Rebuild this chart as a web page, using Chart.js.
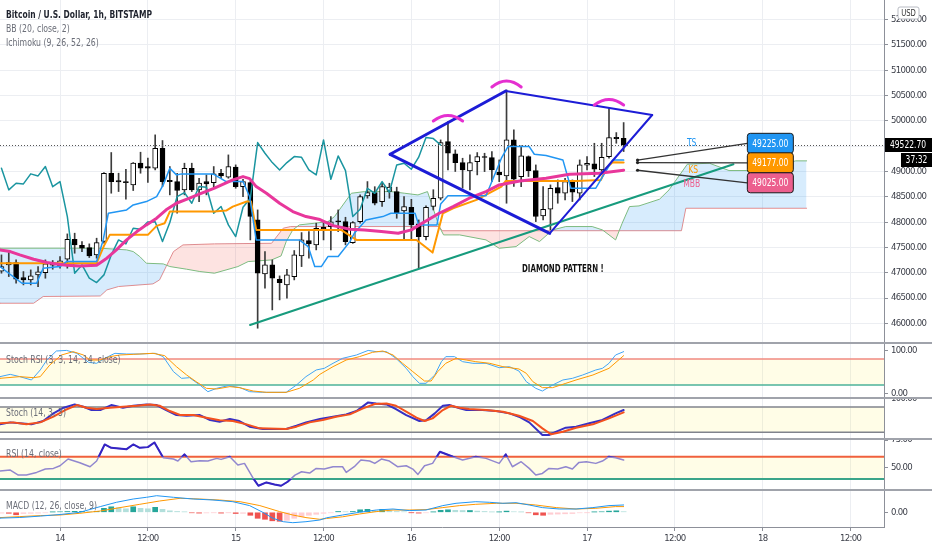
<!DOCTYPE html>
<html><head><meta charset="utf-8"><title>BTCUSD 1h</title>
<script src="https://cdn.jsdelivr.net/npm/chart.js@4.4.1/dist/chart.umd.min.js"></script>
<style>
html,body{margin:0;padding:0;background:#fff;}
#wrap{position:relative;width:932px;height:550px;overflow:hidden;background:#fff;}
#wrap canvas{position:absolute;left:0;}
.sep{position:absolute;left:0;width:932px;height:2px;background:#a0a3ab;z-index:2;}
.lg{position:absolute;left:6px;font-family:'DejaVu Sans Condensed','Liberation Sans Narrow',sans-serif;font-size:10.5px;line-height:12px;color:#6b6e78;white-space:nowrap;z-index:3;transform:scaleX(0.82);transform-origin:0 0;}
.lg.t{color:#1e222d;font-weight:bold;transform:scaleX(0.80);}
</style></head><body>
<div id="wrap">
 <canvas id="cMain" width="932" height="343" style="top:0px;width:932px;height:343px"></canvas>
 <canvas id="cSrsi" width="932" height="53" style="top:344px;width:932px;height:53px"></canvas>
 <canvas id="cStoch" width="932" height="41" style="top:398px;width:932px;height:41px"></canvas>
 <canvas id="cRsi" width="932" height="50" style="top:440px;width:932px;height:50px"></canvas>
 <canvas id="cMacd" width="932" height="59" style="top:491px;width:932px;height:59px"></canvas>
 <div class="sep" style="top:342px"></div>
 <div class="sep" style="top:397px"></div>
 <div class="sep" style="top:438px"></div>
 <div class="sep" style="top:489px"></div>
 <div class="lg t" style="top:8px">Bitcoin / U.S. Dollar, 1h, BITSTAMP</div>
 <div class="lg" style="top:21.5px">BB (20, close, 2)</div>
 <div class="lg" style="top:35.5px">Ichimoku (9, 26, 52, 26)</div>
 <div class="lg" style="top:353px">Stoch RSI (3, 3, 14, 14, close)</div>
 <div class="lg" style="top:406px">Stoch (14, 3, 3)</div>
 <div class="lg" style="top:447px">RSI (14, close)</div>
 <div class="lg" style="top:499px">MACD (12, 26, close, 9)</div>
</div>
<script>
// ---------------- DATA ----------------
// time: hours since 14 00:00
const timeTickHours = [0,12,24,36,48,60,72,84,96,108];
const timeTickLabels = ['14','12:00','15','12:00','16','12:00','17','12:00','18','12:00'];
const priceTicks = [46000,46500,47000,47500,48000,48500,49000,49500,50000,50500,51000,51500,52000];

const hours = [-8,-7,-6,-5,-4,-3,-2,-1,0,1,2,3,4,5,6,7,8,9,10,11,12,13,14,15,16,17,18,19,20,21,22,23,24,25,26,27,28,29,30,31,32,33,34,35,36,37,38,39,40,41,42,43,44,45,46,47,48,49,50,51,52,53,54,55,56,57,58,59,60,61,62,63,64,65,66,67,68,69,70,71,72,73,74,75,76,77];
const open  = [47030,47155,47201,46904,46858,46957,47003,47175,47135,47267,47662,47543,47497,47352,47616,48966,48820,48800,48736,49164,49098,49065,49460,48825,48801,48637,49065,48637,48801,48781,48966,48887,49085,48700,48781,48044,46977,47154,46871,46759,46924,47332,47635,47550,47898,47912,48026,48010,47596,48010,48518,48584,48406,48604,48604,48221,48294,47964,47714,48312,48472,49591,49348,49176,49013,49196,49295,49275,48990,48913,49624,48900,49295,49018,48122,48254,48682,48570,48788,48570,49124,49150,49031,49295,49677,49657];
const high  = [47352,47398,47254,47023,47056,47122,47254,47241,47320,47767,47781,47616,47570,47682,48979,49375,48966,49045,49177,49381,49263,49724,49612,49098,48966,49164,49164,48867,48933,49098,49045,49328,49131,48847,48801,48241,47418,47253,46937,47069,47438,47793,47813,47978,47990,48109,48241,48096,48010,48540,48801,48700,48780,48768,48690,48505,48450,48043,48320,48640,49624,49986,49427,49262,49328,49374,49361,49394,49229,50612,49822,49505,49308,49130,48702,48735,48834,48867,48834,49229,49295,49558,49558,50250,49769,49967];
const low   = [46990,46924,46792,46759,46759,46726,46891,47069,47089,47089,47385,47418,47300,47287,47583,48571,48604,48453,48624,48966,48782,49032,48702,48538,48176,48538,48604,48406,48538,48700,48867,48867,48669,48505,47648,45903,46693,46265,46463,46496,46858,47121,47286,47451,47648,47451,47813,47550,47580,47980,48472,48340,48310,48472,48076,47648,47640,47088,47650,48240,48438,49031,49000,48670,48636,48933,48998,48801,48800,48373,48703,48700,48900,48010,48043,47846,48373,48439,48406,48439,49031,48900,48998,49262,49558,49394];
const close = [47120,47201,46871,46858,46937,47016,47175,47150,47234,47662,47550,47484,47333,47596,48966,48801,48795,48780,49164,49065,49065,49460,48801,48800,48624,49065,48637,48769,48755,48953,48913,49098,48700,48801,48110,46990,47154,46891,46805,46957,47352,47648,47569,47879,47859,48004,48006,47615,47991,48505,48584,48373,48703,48690,48175,48307,47945,47714,48294,48470,49572,49361,49176,49031,49176,49295,49280,49031,48933,49624,48847,49308,49018,48110,48254,48669,48570,48801,48590,49130,49163,49045,49282,49670,49650,49523];
const currentPrice = 49522.70;
const countdown = '37:32';

// Ichimoku lagging span (plotted at hours[0..60])
const chikou = [49065,48637,48769,48755,48953,48913,49098,48700,48801,48110,46990,47154,46891,46805,46957,47352,47648,47569,47879,47859,48004,48006,47615,47991,48505,48584,48373,48703,48690,48175,48307,47945,47714,48294,48470,49572,49361,49176,49031,49176,49295,49280,49031,48933,49624,48847,49308,49018,48110,48254,48669,48570,48801,48590,49130,49163,49045,49282,49670,49650,49523];
const tenkan = [[-8.2,47121],[-6.1,46891],[-5.2,46792],[-3.2,46792],[-2.3,47089],[0,47121],[0.9,47220],[5.0,47220],[5.9,47648],[6.6,48175],[9.1,48241],[10.0,48340],[11.8,48406],[13.2,48505],[14.1,48736],[15.0,49065],[15.9,48933],[16.6,48953],[20.9,48953],[22.7,48801],[25.0,48801],[25.9,48505],[26.8,47648],[32.7,47648],[33.9,47517],[34.8,47121],[35.7,47121],[36.6,47319],[38.0,47319],[39.6,47615],[40.2,47780],[41.8,48043],[44.1,48109],[45.2,48175],[48.5,48175],[49.0,47945],[51.5,47945],[52.0,48356],[53.0,48520],[58.2,48520],[60.3,49262],[61.2,49493],[64.1,49493],[64.8,49341],[66.4,49315],[68.7,49229],[69.8,48670],[73.2,48670],[75.5,49229],[77,49225]];
const kijun = [[-8.2,47188],[5.0,47188],[6.0,47530],[6.8,47748],[12.0,47748],[13.2,47925],[14.3,47978],[15.0,48209],[21.1,48209],[22.7,48228],[23.6,48307],[25.5,48406],[26.1,48406],[26.8,47846],[38.4,47846],[40.5,47648],[48.7,47648],[50.9,47398],[52.3,48175],[53.7,48274],[56.9,48439],[60.3,48702],[60.9,48814],[70.5,48814],[73.9,48834],[74.6,49065],[75.5,49183],[77,49177]];
const bbMid = [[-8.2,47451],[-6.8,47418],[-5.5,47352],[-3.6,47267],[-1.8,47201],[-0.5,47174],[0.9,47148],[2.7,47135],[5.0,47148],[6.4,47286],[7.7,47451],[9.1,47649],[10.5,47813],[11.8,47945],[13.2,48077],[14.5,48242],[15.9,48373],[17.7,48472],[19.1,48558],[21.1,48670],[23.6,48834],[25.0,48900],[25.9,48860],[26.8,48702],[28.2,48571],[30.0,48373],[31.8,48208],[33.6,48110],[35.5,48050],[37.3,47930],[39.6,47860],[41.6,47846],[43.9,47813],[46.2,47780],[48.0,47846],[49.1,47945],[51.8,48175],[53.7,48307],[55.9,48472],[58.2,48604],[60.0,48735],[62.8,48814],[66.4,48867],[69.6,48946],[73.7,48966],[77,49025]];
const senkouA = [[-8.2,47484],[5.5,47484],[9.1,47451],[10.0,47418],[10.9,47319],[11.8,47187],[14.1,47174],[15.0,47122],[17.3,47069],[19.1,47023],[21.1,46990],[24.3,47121],[25.7,47220],[28.9,47253],[30.2,47332],[30.9,47615],[31.8,47846],[32.7,47945],[34.8,47978],[36.6,48010],[37.5,48109],[39.8,48570],[41.6,48603],[45.2,48603],[47.1,48570],[48.9,48537],[50.2,48603],[51.8,47912],[52.4,47747],[54.6,47747],[58.2,47648],[60.0,47483],[62.3,47516],[64.1,47714],[65.5,47615],[67.3,47846],[69.1,47912],[72.7,47912],[74.1,47846],[75.9,47648],[76.8,47978],[77.8,48307],[79.1,48320],[81.9,48452],[83.2,48636],[85.7,49144],[88.7,49164],[91.4,49019],[94.1,49019],[95.5,49032],[100.5,49210],[102,49210]];
const senkouB = [[-8.2,46397],[-3.6,46397],[-2.3,46530],[5.5,46540],[6.4,46660],[8.0,46727],[12.7,46779],[13.6,46858],[14.5,47122],[15.5,47418],[16.8,47550],[21.1,47570],[28.9,47582],[30.5,47880],[31.5,47912],[51.8,47912],[52.2,47830],[84.9,47830],[85.5,48274],[102,48274]];

// drawings (hour, price)
const trendLine = [[25.96,45966],[92.0,49142]];
const diamondH = [45.1, 60.9, 80.9, 66.9];
const diamondP = [49340, 50591, 50117, 47779];
const arcH = [53.0, 61.0, 75.0];
const arcTop = [50107, 50789, 50423];
const arcEnd = [49998, 50670, 50314];
const labelValues = [49225.00, 49177.00, 49025.00];
const labelStartH = 78.9;
const labelBoxH = 93.9;
const labelBoxP = [49557, 49172, 48777];
const tagNames = ['TS','KS','MBB'];
const tagH = [86.3, 86.5, 86.3];
const tagP = [49557, 49030, 48747];
const noteText = 'DIAMOND PATTERN !';
const noteH = 68.7, noteP = 47073;

// oscillators
const stochRsiBands = [80,20];
const stochRsiK = [[-8.2,39.4],[-6.8,44.7],[-5.5,39.4],[-3.9,31.7],[-2.7,54.8],[-1.8,77.8],[-0.5,98.6],[0.9,100],[2.3,93.3],[3.9,72.5],[5.0,70.2],[6.1,81.7],[7.5,93.3],[9.1,91.7],[10.9,91.7],[13.0,93.3],[14.1,85.6],[15.5,50.9],[16.6,35.5],[17.7,37.0],[19.1,20.1],[20.2,4.7],[21.4,12.4],[23.0,18.6],[24.6,14.0],[25.9,4.7],[27.7,3.2],[30.9,3.2],[32.3,20.1],[33.6,39.4],[35.0,54.8],[36.1,58.6],[37.3,70.2],[38.6,81.7],[40.5,89.4],[42.1,100],[43.2,97.1],[44.6,97.1],[45.9,81.7],[47.3,58.6],[48.2,39.4],[49.1,24.0],[50.0,24.0],[51.2,43.2],[52.1,74.0],[52.7,85.6],[53.9,85.6],[55.0,74.0],[56.4,70.2],[58.2,70.2],[60.0,60.1],[61.4,62.4],[62.7,52.4],[63.7,27.8],[65.0,12.4],[65.9,6.2],[67.3,20.1],[68.7,31.7],[70.0,35.5],[71.4,43.2],[73.2,54.8],[74.1,58.6],[75.0,70.2],[75.9,89.4],[77,97.1]];
const stochRsiD = [[-8.2,35.5],[-5.5,39.4],[-3.6,37.0],[-2.7,39.4],[-1.4,66.3],[0.2,89.4],[1.8,97.1],[3.2,89.4],[4.1,77.8],[5.5,77.8],[6.8,85.6],[8.2,89.4],[10.0,90.9],[12.7,93.3],[14.3,87.9],[15.9,62.5],[17.3,43.2],[18.6,27.8],[20.0,12.4],[21.4,10.9],[23.2,16.3],[24.5,14.0],[26.4,6.2],[28.2,3.2],[30.9,3.2],[32.7,12.4],[34.6,31.7],[35.5,44.7],[37.3,62.5],[39.1,77.8],[40.9,85.6],[42.7,95.6],[44.1,98.6],[45.5,89.4],[46.8,70.2],[48.2,50.9],[49.8,29.3],[50.7,29.3],[51.6,50.9],[52.7,70.2],[54.1,81.7],[55.5,77.8],[56.8,74.0],[58.7,70.2],[60.5,62.5],[62.7,57.1],[63.7,47.1],[64.6,27.8],[65.9,14.0],[67.3,14.0],[69.1,24.0],[70.5,31.7],[72.8,43.2],[75.0,58.6],[77,87.9]];
const stochBands = [80,20];
const stochK = [[-8.2,38.8],[-6.8,43.5],[-5.5,41.2],[-3.9,38.8],[-2.3,46.7],[-0.9,64.9],[0.5,78.3],[2.0,86.2],[3.2,80.7],[4.3,72.8],[5.5,72.8],[7.0,84.6],[8.6,78.3],[10.0,83.0],[11.8,86.2],[13.2,84.6],[14.5,72.8],[15.9,60.9],[17.3,59.3],[19.1,60.9],[20.5,49.1],[21.8,45.1],[23.2,51.4],[24.5,46.7],[25.9,33.3],[27.7,27.7],[30.9,27.7],[32.3,35.6],[33.6,43.5],[35.5,51.4],[37.3,57.0],[39.1,62.5],[40.5,70.4],[42.1,90.9],[43.2,88.5],[44.6,86.2],[45.9,75.1],[47.3,60.9],[49.1,46.7],[50.0,48.3],[51.2,64.9],[52.3,83.0],[53.2,84.6],[54.6,76.7],[55.5,72.8],[57.7,72.8],[59.6,70.4],[61.4,64.9],[62.7,57.0],[64.1,43.5],[65.9,13.5],[66.8,13.5],[67.8,21.4],[69.1,30.9],[70.5,33.3],[72.3,41.2],[74.1,49.1],[75.9,64.9],[77,72.8]];
const stochD = [[-8.2,41.2],[-6.4,43.5],[-4.6,38.8],[-2.7,43.5],[-0.9,57.0],[0.7,72.8],[2.3,84.6],[3.6,78.3],[5.0,75.1],[6.8,78.3],[8.6,80.7],[10.5,83.0],[12.3,86.2],[13.6,83.0],[15.0,70.4],[16.4,60.9],[18.2,60.9],[20.0,54.6],[21.8,48.3],[23.6,46.7],[25.5,38.8],[27.3,29.3],[30.9,27.7],[32.3,33.3],[34.1,43.5],[35.9,49.1],[37.7,57.0],[39.6,62.5],[41.4,76.7],[43.0,87.0],[44.6,88.5],[45.9,83.0],[47.3,68.8],[48.7,54.6],[49.8,46.7],[50.9,53.0],[52.3,72.8],[53.4,83.0],[54.6,78.3],[55.9,75.1],[58.2,72.8],[60.5,68.8],[62.7,59.3],[64.6,46.7],[65.9,29.3],[67.1,15.1],[68.7,21.4],[70.5,30.9],[72.8,38.8],[75.0,53.0],[77,67.2]];
const rsiBands = [60,40];
const rsi = [[-8.2,47.1],[-6.8,48.0],[-5.7,43.5],[-4.6,43.5],[-3.2,45.9],[-2.0,48.9],[-0.9,49.5],[0,51.9],[1.1,57.9],[2.7,54.6],[4.1,51.0],[5.0,56.1],[6.1,71.0],[7.0,68.0],[9.1,66.8],[10.0,71.0],[10.9,68.0],[12.0,68.6],[12.9,72.8],[14.1,59.1],[15.5,57.9],[16.1,56.1],[17.0,62.1],[17.9,55.5],[19.1,56.4],[20.2,56.1],[21.4,58.5],[22.0,57.6],[23.2,60.0],[24.3,52.5],[25.2,54.0],[26.4,40.5],[27.1,33.9],[28.2,36.9],[29.3,35.1],[30.2,33.9],[31.1,37.5],[32.1,43.5],[33.0,46.5],[34.1,45.3],[35.0,49.5],[36.1,48.9],[37.3,51.0],[38.6,51.0],[39.1,45.9],[40.2,51.0],[41.1,57.0],[42.3,56.1],[43.0,54.0],[43.9,57.9],[45.0,56.1],[46.1,51.0],[47.3,51.9],[48.2,48.9],[48.9,44.1],[49.8,51.9],[50.9,54.0],[51.9,64.5],[53.7,60.0],[55.0,57.0],[56.8,60.0],[58.2,58.5],[60.0,54.0],[60.9,62.1],[61.8,51.0],[63.0,55.5],[64.1,49.5],[65.0,43.5],[65.9,45.0],[66.8,49.5],[68.0,48.9],[69.1,51.0],[70.0,48.9],[70.9,54.9],[71.9,55.5],[73.2,54.0],[74.1,56.1],[75.0,60.0],[75.9,59.1],[77,57.0]];
const macdLine = [[-8.2,-58],[-5.5,-52],[-2.7,-38],[0,-22],[2.7,0],[5.5,57],[7.7,100],[10,133],[11.8,150],[13.2,166],[15.5,150],[18.2,133],[20.9,123],[23.6,106],[25.9,67],[27.7,0],[29.1,-60],[30.5,-94],[31.8,-104],[33.6,-94],[35.5,-77],[36.4,-55],[38.6,-27],[40.9,0],[43.2,23],[45.5,33],[47.7,17],[50,23],[52.3,67],[54.1,90],[56.8,106],[58.7,100],[60.5,90],[62.3,96],[64.1,73],[65.9,47],[68.2,33],[70.5,33],[72.8,47],[75,67],[77,73]];
const signalLine = [[-8.2,-53],[-5.5,-43],[-2.7,-33],[0,-27],[2.7,-10],[5.5,13],[8.2,47],[10.9,80],[13.6,113],[16.4,140],[19.1,133],[21.8,123],[24.6,106],[27.3,67],[30,7],[31.8,-27],[33.6,-53],[35.5,-70],[36.4,-62],[38.6,-45],[40.9,-17],[43.2,7],[45.5,23],[47.7,23],[50,27],[52.3,47],[54.6,67],[56.8,80],[59.6,90],[62.3,90],[65,73],[67.8,47],[70.5,33],[73.2,40],[75.9,57],[77,57]];
const macdHist = [-8,-10,-25,-12,-10,-8,-5,3,5,8,10,10,8,10,40,55,45,35,55,40,35,50,30,15,8,4,-5,-8,-6,-4,-8,-3,-12,-10,-30,-60,-70,-85,-90,-80,-60,-45,-30,-20,-10,-5,8,5,8,25,30,15,30,15,8,5,-3,-8,-5,3,20,25,20,18,18,12,8,3,3,12,5,3,-5,-25,-30,-20,-18,-15,-12,-5,-3,3,5,12,15,6];

// ---------------- STYLE / SETUP ----------------
const FONT = "'DejaVu Sans Condensed','Liberation Sans Narrow',sans-serif";
const GRID = '#eceef2', AXIS = '#8d9099', TXT = '#3b3e48';
const X_MIN = -8.2, X_MAX = 112.57;

// condensed canvas text (TradingView-like narrow labels)
Chart.register({ id:'condense', beforeDraw(chart){ chart.ctx.letterSpacing = '-0.7px'; } });

function xScale(show){
  return {
    type:'linear', min:X_MIN, max:X_MAX, offset:false,
    grid:{color:GRID, offset:false, drawTicks:show, tickLength:4, tickColor:AXIS},
    border:{display:show, color:AXIS},
    ticks:{display:show, autoSkip:false, maxRotation:0, padding:2, color:TXT, font:{family:FONT,size:9.5},
      callback:(v,i)=>timeTickLabels[i]},
    afterBuildTicks:s=>{ s.ticks = timeTickHours.map(v=>({value:v})); },
    afterFit:s=>{ s.height = show ? 23 : 0; s.paddingLeft = 0; s.paddingRight = 0; }
  };
}
function yScale(min, max, vals, gridOn){
  return {
    type:'linear', position:'right', min, max,
    grid:{color:GRID, drawOnChartArea:gridOn, drawTicks:true, tickLength:4, tickColor:AXIS},
    border:{display:true, color:AXIS},
    ticks:{padding:3, color:TXT, font:{family:FONT,size:9.5}, callback:v=>Number(v).toFixed(2)},
    afterBuildTicks:s=>{ s.ticks = vals.map(v=>({value:v})); },
    afterFit:s=>{ s.width = 48; s.paddingTop = 0; s.paddingBottom = 0; }
  };
}
function baseOpts(yCfg, showX, extraPlugins){
  return {
    responsive:false, animation:false, events:[],
    layout:{padding:0, autoPadding:false},
    plugins:Object.assign({legend:{display:false}, tooltip:{enabled:false}}, extraPlugins||{}),
    scales:{x:xScale(showX), y:yCfg}
  };
}
const pts = pairs => pairs.map(p=>({x:p[0], y:p[1]}));
function line(pairs, color, width, order, extra){
  return Object.assign({type:'line', data:pts(pairs), borderColor:color, borderWidth:width,
    pointRadius:0, tension:0, fill:false, order, borderJoinStyle:'round', borderCapStyle:'round'}, extra||{});
}

const bandPlugin = {
  id:'bands',
  beforeDatasetsDraw(chart, args, o){
    const {ctx, chartArea:ca} = chart; const Y = chart.scales.y;
    const yh = Y.getPixelForValue(o.values[0]), yl = Y.getPixelForValue(o.values[1]);
    ctx.save();
    ctx.fillStyle = o.fill; ctx.fillRect(ca.left, yh, ca.right-ca.left, yl-yh);
    ctx.lineWidth = o.width;
    ctx.strokeStyle = o.hiColor; ctx.beginPath(); ctx.moveTo(ca.left, yh); ctx.lineTo(ca.right, yh); ctx.stroke();
    ctx.strokeStyle = o.loColor; ctx.beginPath(); ctx.moveTo(ca.left, yl); ctx.lineTo(ca.right, yl); ctx.stroke();
    ctx.restore();
  }
};
const rsiDarkPlugin = {
  id:'rsiDark',
  afterDatasetsDraw(chart){
    const {ctx, chartArea:ca} = chart; const Y = chart.scales.y;
    const meta = chart.getDatasetMeta(0);
    const yh = Y.getPixelForValue(rsiBands[0]), yl = Y.getPixelForValue(rsiBands[1]);
    ctx.save();
    ctx.beginPath(); ctx.rect(ca.left, ca.top, ca.right-ca.left, yh-ca.top); ctx.rect(ca.left, yl, ca.right-ca.left, ca.bottom-yl); ctx.clip();
    ctx.strokeStyle = '#3424c4'; ctx.lineWidth = 2; ctx.lineJoin = 'round';
    ctx.beginPath();
    meta.data.forEach((p,i)=>{ if(i) ctx.lineTo(p.x,p.y); else ctx.moveTo(p.x,p.y); });
    ctx.stroke(); ctx.restore();
  }
};
function rrect(ctx, x, y, w, h, r){
  ctx.beginPath(); ctx.moveTo(x+r,y); ctx.lineTo(x+w-r,y); ctx.quadraticCurveTo(x+w,y,x+w,y+r);
  ctx.lineTo(x+w,y+h-r); ctx.quadraticCurveTo(x+w,y+h,x+w-r,y+h); ctx.lineTo(x+r,y+h);
  ctx.quadraticCurveTo(x,y+h,x,y+h-r); ctx.lineTo(x,y+r); ctx.quadraticCurveTo(x,y,x+r,y); ctx.closePath();
}
// narrow text helper: draws text compressed horizontally by sx
function ntext(ctx, text, x, y, sx, align){
  ctx.save(); ctx.letterSpacing = '0px'; ctx.translate(x, y); ctx.scale(sx, 1);
  ctx.textAlign = align; ctx.fillText(text, 0, 0); ctx.restore();
}
const labelColors = ['#2196f3','#ff9800','#ec5f8e'];
const annotPlugin = {
  id:'annot',
  afterDatasetsDraw(chart){
    const {ctx, chartArea:ca} = chart; const X = chart.scales.x, Y = chart.scales.y;
    const px = h => X.getPixelForValue(h), py = p => Y.getPixelForValue(p);
    ctx.save();
    ctx.beginPath(); ctx.rect(ca.left, ca.top, ca.right-ca.left, ca.bottom-ca.top); ctx.clip();
    // last price dotted line
    const yl = Math.round(py(currentPrice)) + 0.5;
    ctx.strokeStyle = '#555'; ctx.lineWidth = 1; ctx.setLineDash([1,2]);
    ctx.beginPath(); ctx.moveTo(ca.left, yl); ctx.lineTo(ca.right, yl); ctx.stroke(); ctx.setLineDash([]);
    // diamond
    ctx.strokeStyle = '#1c1cd6'; ctx.lineCap = 'round'; ctx.lineJoin = 'round';
    [[0,1,3],[0,3,3],[1,2,2],[3,2,2]].forEach(([a,b,w])=>{
      ctx.lineWidth = w; ctx.beginPath();
      ctx.moveTo(px(diamondH[a]), py(diamondP[a])); ctx.lineTo(px(diamondH[b]), py(diamondP[b])); ctx.stroke();
    });
    // arcs over peaks
    ctx.strokeStyle = '#e52fd0'; ctx.lineWidth = 3;
    arcH.forEach((h,i)=>{
      const l = px(h-2), r = px(h+2), c = px(h), yt = py(arcTop[i]), ye = py(arcEnd[i]);
      ctx.beginPath(); ctx.moveTo(l, ye); ctx.quadraticCurveTo(c, 2*yt-ye, r, ye); ctx.stroke();
    });
    // value label connectors
    ctx.lineCap = 'butt';
    labelValues.forEach((v,i)=>{
      const sx = px(labelStartH), sy = py(v), ex = px(labelBoxH), ey = py(labelBoxP[i]);
      ctx.strokeStyle = '#333'; ctx.lineWidth = 1.3;
      ctx.beginPath(); ctx.moveTo(sx, sy); ctx.lineTo(ex, ey); ctx.stroke();
      ctx.fillStyle = '#222'; ctx.beginPath(); ctx.arc(sx, sy, 1.6, 0, Math.PI*2); ctx.fill();
    });
    ctx.font = `10.5px ${FONT}`; ctx.textBaseline = 'middle';
    labelValues.forEach((v,i)=>{
      const ex = px(labelBoxH), ey = py(labelBoxP[i]);
      rrect(ctx, ex, ey-10, 46, 20, 3);
      ctx.fillStyle = labelColors[i]; ctx.fill();
      ctx.strokeStyle = '#1a1a1a'; ctx.lineWidth = 1; ctx.stroke();
      ctx.fillStyle = '#fff'; ntext(ctx, v.toFixed(2), ex+23, ey+0.5, 0.8, 'center');
    });
    ctx.font = `10px ${FONT}`;
    tagNames.forEach((t,i)=>{
      ctx.fillStyle = labelColors[i]; ntext(ctx, t, px(tagH[i]), py(tagP[i]), 0.85, 'center');
    });
    // note
    ctx.font = `bold 10px ${FONT}`; ctx.fillStyle = '#111';
    ntext(ctx, noteText, px(noteH), py(noteP), 0.78, 'center');
    ctx.restore();
  },
  afterDraw(chart){
    const {ctx, chartArea:ca} = chart; const Y = chart.scales.y;
    const y = Math.round(Y.getPixelForValue(currentPrice));
    ctx.save();
    ctx.font = `10.5px ${FONT}`; ctx.textBaseline = 'middle';
    ctx.fillStyle = '#000'; ctx.fillRect(ca.right+1, y-7, 47, 14);
    ctx.fillStyle = '#fff'; ntext(ctx, currentPrice.toFixed(2), ca.right+6, y+0.5, 0.8, 'left');
    ctx.fillStyle = '#000'; ctx.fillRect(ca.right+17, y+8, 31, 14);
    ctx.fillStyle = '#fff'; ntext(ctx, countdown, ca.right+32.5, y+15.5, 0.8, 'center');
    rrect(ctx, ca.right+14, 7, 21, 12, 2);
    ctx.fillStyle = '#fff'; ctx.fill(); ctx.strokeStyle = '#b8bbc3'; ctx.lineWidth = 1; ctx.stroke();
    ctx.fillStyle = '#333'; ctx.font = `9px ${FONT}`; ntext(ctx, 'USD', ca.right+24.5, 13.5, 0.85, 'center');
    ctx.restore();
  }
};

// ---------------- MAIN PRICE PANE ----------------
new Chart(document.getElementById('cMain'), {
  type:'bar',
  data:{datasets:[
    line(senkouB, '#e69090', 1, 20),
    line(senkouA, '#7dbb80', 1, 19, {fill:{target:0, above:'rgba(33,150,243,0.18)', below:'rgba(244,67,54,0.15)'}}),
    {type:'bar', data:hours.map((h,i)=>({x:h, y:[low[i], high[i]]})), backgroundColor:'#3c3c3c',
      barThickness:1, grouped:false, order:12},
    {type:'bar', data:hours.map((h,i)=>({x:h, y:[open[i], close[i]]})),
      backgroundColor:hours.map((h,i)=> close[i] >= open[i] ? '#ffffff' : '#000000'),
      borderColor:'#000000', borderWidth:1, borderSkipped:false, barThickness:5, grouped:false, order:11},
    line(chikou.map((v,i)=>[hours[i], v]), '#1a95a0', 1.5, 6),
    line(kijun, '#ff9800', 2, 5),
    line(tenkan, '#2196f3', 1.5, 4),
    line(bbMid, '#e8379b', 3, 3),
    line(trendLine, '#179b7d', 2, 2)
  ]},
  options: baseOpts(yScale(45611, 52389, priceTicks, true), false),
  plugins:[annotPlugin]
});

// ---------------- STOCH RSI ----------------
new Chart(document.getElementById('cSrsi'), {
  type:'line',
  data:{datasets:[
    line(stochRsiK, '#42a5f5', 1, 2),
    line(stochRsiD, '#ff9800', 1, 1)
  ]},
  options: baseOpts(yScale(-7.6, 114.8, [100,0], false), false,
    {bands:{values:stochRsiBands, fill:'rgba(255,235,59,0.12)', hiColor:'#f08a80', loColor:'#4db29a', width:1.5}}),
  plugins:[bandPlugin]
});

// ---------------- STOCH ----------------
new Chart(document.getElementById('cStoch'), {
  type:'line',
  data:{datasets:[
    line(stochK, '#3730c4', 2, 2),
    line(stochD, '#f4511e', 2, 1)
  ]},
  options: baseOpts(yScale(4.0, 101.4, [100], false), false,
    {bands:{values:stochBands, fill:'rgba(255,235,59,0.12)', hiColor:'#80838c', loColor:'#80838c', width:1.5}}),
  plugins:[bandPlugin]
});

// ---------------- RSI ----------------
new Chart(document.getElementById('cRsi'), {
  type:'line',
  data:{datasets:[ line(rsi, '#9187cf', 1.5, 1) ]},
  options: baseOpts(yScale(30.1, 75.0, [75,50], false), false,
    {bands:{values:rsiBands, fill:'rgba(255,235,59,0.12)', hiColor:'#f0603c', loColor:'#3aa58a', width:2}}),
  plugins:[bandPlugin, rsiDarkPlugin]
});

// ---------------- MACD ----------------
const histColors = macdHist.map((v,i)=>{
  const p = i ? macdHist[i-1] : v;
  return v >= 0 ? (v >= p ? '#26a69a' : '#b2dfdb') : (v < p ? '#ef5350' : '#ffcdd2');
});
new Chart(document.getElementById('cMacd'), {
  type:'bar',
  data:{datasets:[
    {type:'bar', data:hours.map((h,i)=>({x:h, y:macdHist[i]})), backgroundColor:histColors,
      barThickness:5, grouped:false, order:3},
    line(macdLine, '#2196f3', 1, 1),
    line(signalLine, '#ff9800', 1, 2)
  ]},
  options: baseOpts(yScale(-147, 213, [0], false), true)
});
</script>
</body></html>
